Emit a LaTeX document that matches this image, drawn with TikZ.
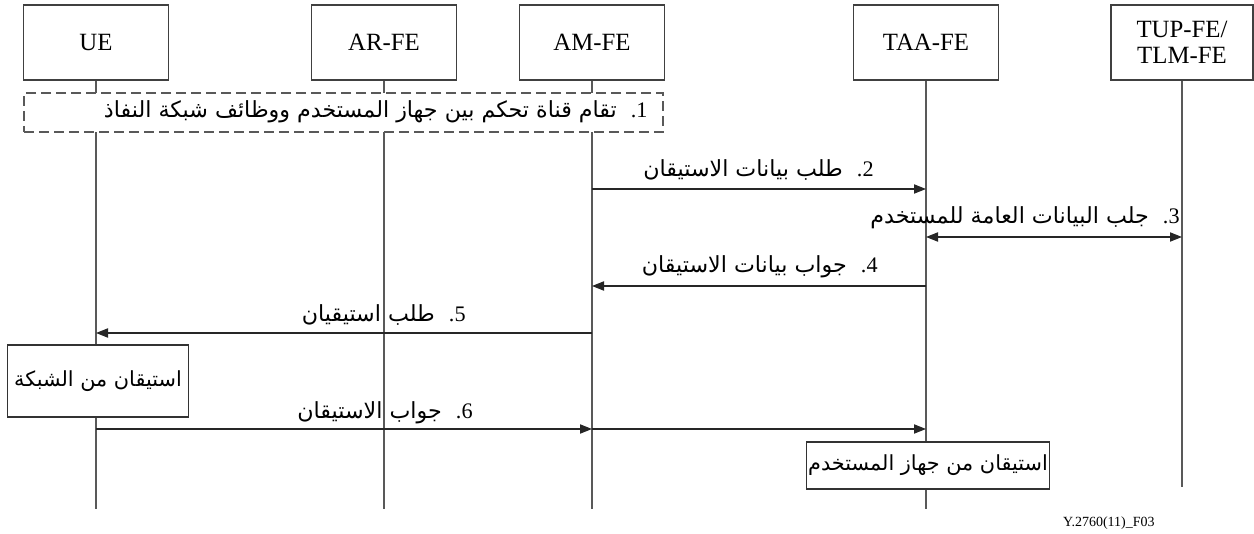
\documentclass[tikz,border=0pt]{standalone}
\usepackage{fontspec}
\setmainfont{Liberation Serif}
\newfontfamily\arabicfont[Script=Arabic]{DejaVu Sans}
\TeXXeTstate=1
\usetikzlibrary{arrows.meta}
\newcommand\stepno[1]{{\rmfamily #1\kern0pt.}\kern0pt\ \ }
\tikzset{
  entity/.style={draw=black!75, line width=0.6pt, fill=white, minimum width=72.5pt,
    minimum height=37.5pt, inner sep=0pt, align=center, font=\fontsize{12.4}{13}\selectfont},
  life/.style={draw=black!65, line width=0.6pt},
  msg/.style={draw=black!85, line width=0.6pt, -{Triangle[length=6pt,width=4.6pt]}},
  dmsg/.style={draw=black!85, line width=0.6pt, {Triangle[length=6pt,width=4.6pt]}-{Triangle[length=6pt,width=4.6pt]}},
  lbl/.style={anchor=east, inner sep=0pt, font=\fontsize{11.1}{13}\arabicfont},
  actbox/.style={draw=black!80, line width=0.6pt, fill=white, inner sep=0pt, font=\fontsize{10.4}{12}\arabicfont}
}
\begin{document}
\begin{tikzpicture}[x=0.5pt,y=-0.5pt]
\useasboundingbox (0,0) rectangle (1254,534);
% entities
\node[entity] (ue)  at (96,42.5)   {UE};
\node[entity] (ar)  at (384,42.5)  {AR-FE};
\node[entity] (am)  at (592,42.5)  {AM-FE};
\node[entity] (taa) at (926,42.5)  {TAA-FE};
\node[entity, minimum width=71pt] (tup) at (1182,42.5) {TUP-FE/\\TLM-FE};
% lifeline ends
\coordinate (ueE)  at (96,509);
\coordinate (arE)  at (384,509);
\coordinate (amE)  at (592,509);
\coordinate (taaE) at (926,509);
\coordinate (tupE) at (1182,487);
\draw[life] (ue.south) -- (ueE);
\draw[life] (ar.south) -- (arE);
\draw[life] (am.south) -- (amE);
\draw[life] (taa.south) -- (taaE);
\draw[life] (tup.south) -- (tupE);
% step 1 dashed box
\node[draw=black!65, dashed, dash pattern=on 5pt off 2.5pt, line width=0.6pt, fill=white,
      minimum width=319.5pt, minimum height=19.5pt, inner sep=0pt] (setup) at (343.5,112.5) {};
\node[lbl] (l1) at (648,112) {\beginR\stepno{1}تقام قناة تحكم بين جهاز المستخدم ووظائف شبكة النفاذ\endR};
% messages
\draw[msg] (am |- 0,189) -- (taa |- 0,189);
\node[lbl] (l2) at (874,170) {\beginR\stepno{2}طلب بيانات الاستيقان\endR};
\draw[dmsg] (taa |- 0,237) -- (tup |- 0,237);
\node[lbl] (l3) at (1180,218) {\beginR\stepno{3}جلب البيانات العامة للمستخدم\endR};
\draw[msg] (taa |- 0,286) -- (am |- 0,286);
\node[lbl] (l4) at (878,267) {\beginR\stepno{4}جواب بيانات الاستيقان\endR};
\draw[msg] (am |- 0,333) -- (ue |- 0,333);
\node[lbl] (l5) at (466,315) {\beginR\stepno{5}طلب استيقيان\endR};
\node[actbox, minimum width=90.5pt, minimum height=36pt] (net) at (98,381) {\beginR استيقان من الشبكة\endR};
\draw[msg] (ue |- 0,429) -- (am |- 0,429);
\draw[msg] (am |- 0,429) -- (taa |- 0,429);
\node[lbl] (l6) at (473,413) {\beginR\stepno{6}جواب الاستيقان\endR};
\node[actbox, minimum width=121.5pt, minimum height=23.5pt] (usr) at (928,465.5) {\beginR استيقان من جهاز المستخدم\endR};
\node[anchor=east, inner sep=0pt, font=\fontsize{7}{8}\selectfont] (fig) at (1155,523) {Y.2760(11)\_F03};
\end{tikzpicture}
\end{document}
